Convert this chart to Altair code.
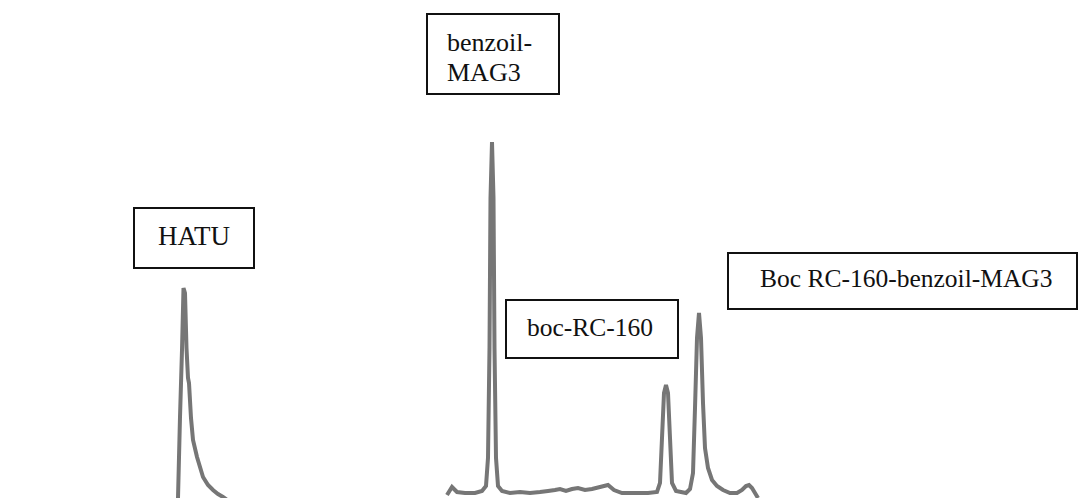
import altair as alt
import pandas as pd

# Chromatogram trace (retention axis units, detector signal units)
hatu_t = [177, 178, 180, 182, 183.5, 185, 186.5, 188, 189, 191, 193, 197, 203, 208, 213, 218, 223, 230]
hatu_s = [-4, 0, 81, 148, 210, 205, 150, 120, 115, 80, 58, 41, 21, 13, 8, 4, 1, -4]

main_t = [447, 452, 457, 465, 475, 482, 486, 488, 489.5, 490.5, 492, 493.5, 494.5, 496, 498, 502,
          510, 520, 530, 540, 548, 555, 560, 566, 572, 578, 585, 592, 600, 604, 608, 614, 622,
          635, 648, 657, 660, 662, 664, 666, 668, 670, 672, 676, 681, 686, 690, 693, 695, 697,
          699, 701, 703, 705, 708, 712, 717, 723, 730, 737, 742, 746, 749, 752, 755, 758]
main_s = [3, 11, 6, 5, 5, 7, 12, 40, 150, 300, 356, 300, 150, 40, 12, 7,
          5, 6, 5, 6, 7, 8, 9, 7, 9, 10, 8, 9, 11, 12, 13, 8, 5,
          5, 5, 6, 15, 60, 105, 113, 105, 60, 15, 7, 6, 5, 9, 25, 90, 160,
          185, 160, 95, 50, 30, 18, 12, 8, 5, 5, 8, 12, 13, 10, 5, 0]

# Peak labels: text, box extent (retention units / signal units)
label_text = [["HATU"], ["benzoil-", "MAG3"], ["boc-RC-160"], ["Boc RC-160-benzoil-MAG3"]]
box_t1 = [134, 427, 506, 728]
box_t2 = [254, 559, 678, 1077]
box_s1 = [230, 404, 140, 189]
box_s2 = [290, 484, 198, 245]
text_t = [194, 447, 527, 760]
text_s = [261, 455, 170, 219]
text_align = ["center", "left", "left", "left"]
text_size = [27, 26, 25.5, 25.5]

W, H = 1080, 498

rows = []
for t, s in zip(hatu_t, hatu_s):
    rows.append({"seg": "a", "t": t, "s": s})
for t, s in zip(main_t, main_s):
    rows.append({"seg": "b", "t": t, "s": s})
trace = pd.DataFrame(rows)
trace["i"] = range(len(trace))

xs = alt.Scale(domain=[0, W], nice=False, zero=False)
ys = alt.Scale(domain=[0, H], nice=False, zero=False)

line = alt.Chart(trace).mark_line(
    color="#767676", strokeWidth=4, clip=True, interpolate="linear"
).encode(
    x=alt.X("t:Q", scale=xs, axis=None),
    y=alt.Y("s:Q", scale=ys, axis=None),
    detail="seg:N",
    order="i:Q",
)

boxes = pd.DataFrame({"t1": box_t1, "t2": box_t2, "s1": box_s1, "s2": box_s2})
rect = alt.Chart(boxes).mark_rect(
    fill="white", fillOpacity=0, stroke="#111", strokeWidth=2
).encode(
    x=alt.X("t1:Q", scale=xs, axis=None),
    x2="t2:Q",
    y=alt.Y("s1:Q", scale=ys, axis=None),
    y2="s2:Q",
)

texts = []
for lines, t, s, al, fs in zip(label_text, text_t, text_s, text_align, text_size):
    df = pd.DataFrame({"t": [t], "s": [s], "txt": [lines if len(lines) > 1 else lines[0]]})
    texts.append(
        alt.Chart(df).mark_text(
            font="Liberation Serif", fontSize=fs, color="#111", align=al,
            baseline="middle", lineHeight=30
        ).encode(
            x=alt.X("t:Q", scale=xs, axis=None),
            y=alt.Y("s:Q", scale=ys, axis=None),
            text="txt",
        )
    )

chart = alt.layer(line, rect, *texts).properties(
    width=W, height=H, padding=0, autosize=alt.AutoSizeParams(type="none"),
    background="white"
).configure_view(stroke=None)

chart.save("out.html", embed_options={"renderer": "svg", "actions": False})
